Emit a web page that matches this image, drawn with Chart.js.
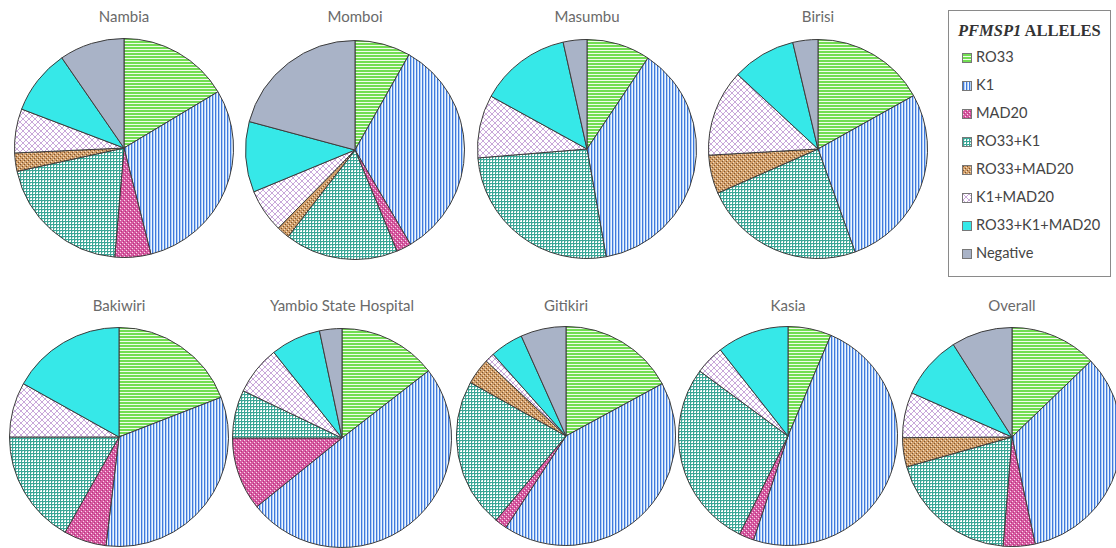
<!DOCTYPE html>
<html><head><meta charset="utf-8">
<script src="https://cdn.jsdelivr.net/npm/chart.js@4/dist/chart.umd.min.js"></script>
<style>
html,body{margin:0;padding:0;background:#fff;}
#wrap{position:relative;width:1116px;height:548px;overflow:hidden;background:#fff;}
.ttl{position:absolute;font-family:Lato,"Open Sans",sans-serif;font-size:15px;color:#6a6a6a;text-align:center;width:240px;white-space:nowrap;}
.pc{position:absolute;}
#legend{position:absolute;left:948px;top:10px;width:163px;height:267px;border:1px solid #8a8a8a;box-sizing:border-box;font-family:Lato,"Open Sans",sans-serif;}
#legend .lt{position:absolute;left:9px;top:10px;font-family:"Liberation Serif","Times New Roman",serif;font-weight:bold;font-size:16.5px;color:#333;white-space:nowrap;}
#legend .it{position:absolute;left:13px;font-size:14.6px;color:#444;white-space:nowrap;height:16px;line-height:16px;}
#legend .sw{display:inline-block;width:10px;height:10px;vertical-align:-1px;margin-right:4px;box-sizing:border-box;border:1px solid #777;}
</style></head>
<body><div id="wrap"><div id="legend"><div class="lt"><i>PFMSP1</i> ALLELES</div></div></div>
<script>
const categories = ['RO33','K1','MAD20','RO33+K1','RO33+MAD20','K1+MAD20','RO33+K1+MAD20','Negative'];
const sites = ['Nambia','Momboi','Masumbu','Birisi','Bakiwiri','Yambio State Hospital','Gitikiri','Kasia','Overall'];
const nambia   = [16.4, 29.6, 5.3, 20.2, 2.7, 6.5, 9.6, 9.6];
const momboi   = [8.2, 33.3, 2.2, 16.7, 1.9, 6.4, 10.4, 20.8];
const masumbu  = [9.4, 37.8, 0, 26.5, 0, 9.3, 13.5, 3.5];
const birisi   = [16.9, 27.6, 0, 23.9, 5.7, 12.8, 9.4, 3.7];
const bakiwiri = [19.1, 32.8, 6.3, 16.8, 0, 8.1, 16.9, 0];
const yambio   = [14.5, 49.7, 10.8, 7.1, 0, 7.2, 7.4, 3.3];
const gitikiri = [17.1, 42.2, 1.8, 22.1, 3.9, 1.4, 4.9, 6.7];
const kasia    = [6.4, 48.7, 2.2, 27.8, 0, 4.3, 10.6, 0];
const overall  = [12.8, 33.8, 4.7, 19.3, 4.3, 6.7, 9.4, 9.0];
const siteValues = [nambia, momboi, masumbu, birisi, bakiwiri, yambio, gitikiri, kasia, overall];

// layout (pie centres and radius), separate from data
const layout = [
  [124,148],[355,150],[587,149],[818,149],
  [119,437],[342,438],[566,436],[788,436],[1012,437]
];
const titleY = [7,7,7,7,296,296,296,296,296];
const R = 109;

function tile(w,h,draw){
  const c=document.createElement('canvas');c.width=w;c.height=h;
  const g=c.getContext('2d');draw(g);return c;
}
function px(g,x,y,col){g.fillStyle=col;g.fillRect(x,y,1,1);}
const tiles = [
  tile(4,3,g=>{g.fillStyle='#72dd52';g.fillRect(0,0,4,3);g.fillStyle='#effcea';g.fillRect(0,2,4,1);}),
  tile(3,4,g=>{g.fillStyle='#b0d0f6';g.fillRect(0,0,3,4);g.fillStyle='#4079dc';g.fillRect(0,0,1,4);g.fillStyle='#eef5fe';g.fillRect(2,0,1,4);}),
  tile(4,4,g=>{g.fillStyle='#d85aa2';g.fillRect(0,0,4,4);px(g,0,0,'#f8dced');px(g,2,2,'#f8dced');px(g,1,3,'#b23a7a');px(g,3,1,'#b23a7a');}),
  tile(3,3,g=>{g.fillStyle='#ffffff';g.fillRect(0,0,3,3);g.fillStyle='#3aa696';g.fillRect(0,0,3,1);g.fillRect(0,0,1,3);g.fillStyle='#a8dad2';g.fillRect(1,1,1,1);}),
  tile(4,4,g=>{g.fillStyle='#d09d68';g.fillRect(0,0,4,4);px(g,0,0,'#7a5230');px(g,2,2,'#7a5230');px(g,1,3,'#f3dfc6');px(g,3,1,'#f3dfc6');}),
  tile(6,6,g=>{g.fillStyle='#ffffff';g.fillRect(0,0,6,6);const c='#c9a8da';for(let i=0;i<6;i++){px(g,i,i,c);px(g,5-i,i,c);} }),
  tile(2,2,g=>{g.fillStyle='#36e8e8';g.fillRect(0,0,2,2);}),
  tile(2,2,g=>{g.fillStyle='#a9b3c7';g.fillRect(0,0,2,2);})
];
const wrap=document.getElementById('wrap');
const tmp=document.createElement('canvas').getContext('2d');
const patterns=tiles.map(t=>tmp.createPattern(t,'repeat'));

// legend
const legend=document.getElementById('legend');
categories.forEach((name,i)=>{
  const d=document.createElement('div');d.className='it';d.style.top=(38+i*28)+'px';
  const s=document.createElement('span');s.className='sw';
  s.style.backgroundImage='url('+tiles[i].toDataURL()+')';
  d.appendChild(s);d.appendChild(document.createTextNode(name));legend.appendChild(d);
});

sites.forEach((name,i)=>{
  const [cx,cy]=layout[i];
  const t=document.createElement('div');t.className='ttl';t.textContent=name;
  t.style.left=(cx-120)+'px';t.style.top=titleY[i]+'px';wrap.appendChild(t);
  const size=2*R+2;
  const cv=document.createElement('canvas');cv.className='pc';
  cv.width=size;cv.height=size;cv.style.width=size+'px';cv.style.height=size+'px';
  cv.style.left=(cx-size/2)+'px';cv.style.top=(cy-size/2)+'px';
  wrap.appendChild(cv);
  new Chart(cv,{
    type:'pie',
    data:{labels:categories,datasets:[{data:siteValues[i],backgroundColor:patterns,borderColor:'#3c3c3c',borderWidth:1}]},
    options:{responsive:false,animation:false,devicePixelRatio:1,layout:{padding:0},
      plugins:{legend:{display:false},tooltip:{enabled:false},title:{display:false}}}
  });
});
</script></body></html>
